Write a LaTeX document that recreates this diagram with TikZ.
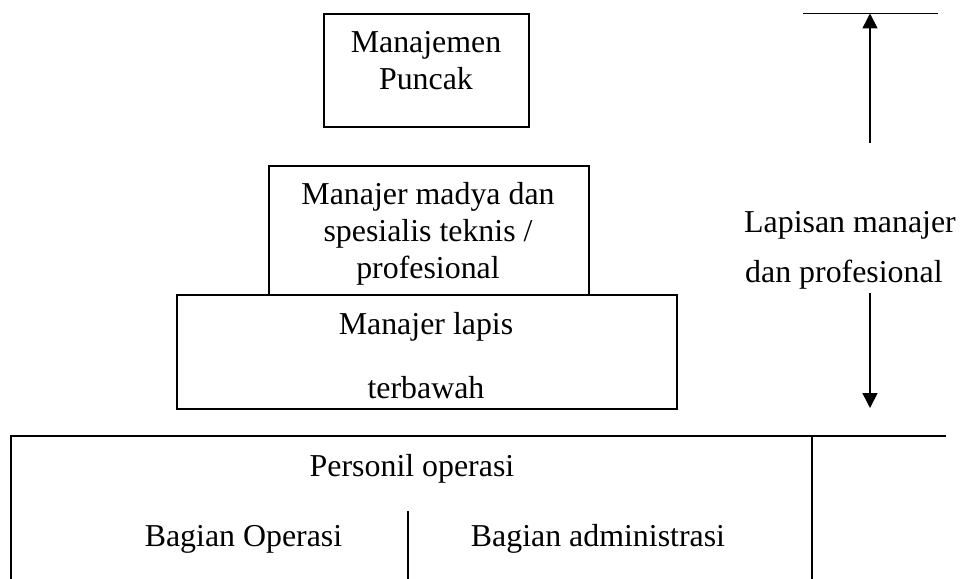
\documentclass[tikz,border=0pt]{standalone}
\usepackage{fontspec}
\setmainfont{Liberation Serif}
\usetikzlibrary{arrows.meta}
\begin{document}
\begin{tikzpicture}[x=1bp,y=-1bp,
  every node/.style={font=\fontsize{32}{37}\selectfont},
  box/.style={draw, line width=1.6bp, inner sep=0pt, anchor=north west},
  txt/.style={anchor=base, inner sep=0pt},
  ln/.style={line width=1.6bp},
  arr/.style={line width=1.6bp, -{Triangle[width=15bp,length=15bp]}}]
\useasboundingbox (0,0) rectangle (965,579);
% boxes
\node[box, minimum width=205bp, minimum height=113bp] (puncak) at (323,13) {};
\node[box, minimum width=320bp, minimum height=129bp] (madya) at (268,165) {};
\node[box, minimum width=500bp, minimum height=114bp] (lapis) at (176,294) {};
% texts
\node[txt] (t1) at (426,53) {Manajemen};
\node[txt] (t2) at (426,90) {Puncak};
\node[txt] (t3) at (428,205) {Manajer madya dan};
\node[txt] (t4) at (428,242) {spesialis teknis /};
\node[txt] (t5) at (428,279) {profesional};
\node[txt] (t6) at (426,334) {Manajer lapis};
\node[txt] (t7) at (426,398) {terbawah};
\node[txt, anchor=base west] (t8) at (744,233) {Lapisan manajer};
\node[txt, anchor=base west] (t9) at (745,283) {dan profesional};
\node[txt] (t10) at (412,476) {Personil operasi};
\node[txt] (t11) at (243.5,546) {Bagian Operasi};
\node[txt] (t12) at (598,546) {Bagian administrasi};
% right scale
\coordinate (tl) at (803,13.5);
\coordinate (tr) at (938,13.5);
\coordinate (uptop) at (870,13.5);
\coordinate (upbot) at (870,143);
\coordinate (dntop) at (870,293);
\coordinate (dnbot) at (870,408);
\draw[ln] (tl) -- (tr);
\draw[arr] (upbot) -- (uptop);
\draw[arr] (dntop) -- (dnbot);
% bottom frame
\coordinate (bl) at (11,579);
\coordinate (tlc) at (11,436);
\coordinate (trc) at (946,436);
\coordinate (rv1) at (812,436);
\coordinate (rv2) at (812,579);
\coordinate (mv1) at (408,511);
\coordinate (mv2) at (408,579);
\draw[ln] (bl) -- (tlc) -- (trc);
\draw[ln] (rv1) -- (rv2);
\draw[ln] (mv1) -- (mv2);
\end{tikzpicture}
\end{document}
